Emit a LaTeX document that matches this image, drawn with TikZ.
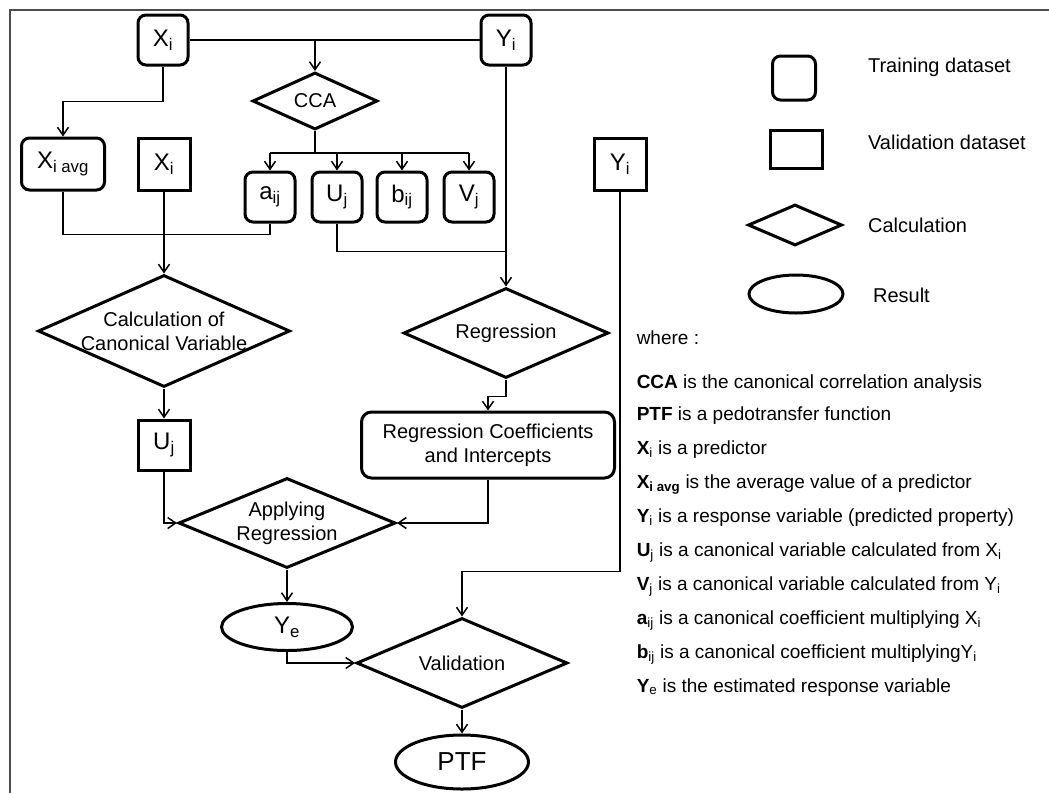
\documentclass[tikz,border=0pt]{standalone}
\usepackage{fontspec}
\setmainfont{Liberation Sans}
\usetikzlibrary{shapes.geometric,arrows.meta}

\begin{document}
\begin{tikzpicture}[x=1pt,y=-1pt,line width=1.5pt,
  >={Straight Barb[length=8pt,width=11pt]},
  train/.style={draw,line width=3pt,rounded corners=8pt,inner sep=0pt,
    minimum width=50pt,minimum height=50pt,font=\fontsize{24}{28}\selectfont},
  valid/.style={draw,line width=3pt,inner sep=0pt,
    minimum width=52pt,minimum height=52pt,font=\fontsize{24}{28}\selectfont},
  calc/.style={draw,diamond,line width=3pt,inner sep=0pt},
  result/.style={draw,ellipse,line width=3pt,inner sep=0pt},
  txt/.style={font=\fontsize{20}{24}\selectfont,align=center},
  legtxt/.style={anchor=west,font=\fontsize{20}{24}\selectfont},
  defn/.style={anchor=west,inner sep=0pt,font=\fontsize{19}{22}\selectfont,
    text height=14pt,text depth=4pt}]
 \useasboundingbox (0,0) rectangle (1049,793);
 \draw[black!70] (10,793) -- (10,10) -- (1049,10);

 \node[train] (xi) at (163,40) {X\textsubscript{i}};
 \node[train] (yi) at (506,40) {Y\textsubscript{i}};
 \node[calc,minimum width=125pt,minimum height=57pt,
   label={[txt]center:CCA}] (cca) at (315,101) {};
 \node[train,minimum width=83pt,minimum height=52pt] (xavg) at (63,164)
   {X\textsubscript{i avg}};
 \node[valid] (xv) at (164,164) {X\textsubscript{i}};
 \node[train] (aij) at (270,197) {a\textsubscript{ij}};
 \node[train] (uj) at (337,197) {U\textsubscript{j}};
 \node[train] (bij) at (402,197) {b\textsubscript{ij}};
 \node[train] (vj) at (469,197) {V\textsubscript{j}};
 \node[valid] (yv) at (620,164) {Y\textsubscript{i}};
 \node[calc,minimum width=252pt,minimum height=112pt,
   label={[txt]center:{Calculation of\\Canonical Variable}}] (canon) at (164,331) {};
 \node[calc,minimum width=205pt,minimum height=90pt,
   label={[txt]center:Regression}] (regr) at (506,333) {};
 \node[valid,minimum width=52pt,minimum height=50pt] (uv) at (164,445) {U\textsubscript{j}};
 \node[train,txt,rounded corners=10pt,minimum width=253pt,minimum height=66pt]
   (coef) at (488,445) {Regression Coefficients\\and Intercepts};
 \node[calc,minimum width=217pt,minimum height=90pt,
   label={[txt]center:{Applying\\Regression}}] (apply) at (287,523) {};
 \node[result,minimum width=131pt,minimum height=47pt,
   font=\fontsize{24}{28}\selectfont] (ye) at (287,627) {Y\textsubscript{e}};
 \node[calc,minimum width=211pt,minimum height=90pt,
   label={[txt]center:Validation}] (valid) at (462,663) {};
 \node[result,minimum width=133pt,minimum height=54pt,
   font=\fontsize{26}{30}\selectfont] (ptf) at (462,762) {PTF};

 \draw (xi.east) -- (yi.west);
 \draw[->] (cca.north |- xi.east) -- (cca.north);
 \draw[->] (xi.south) -- ++(0,35) -| (xavg.north);
 \draw (cca.south) -- ++(0,22) coordinate (bus);
 \draw (aij.north |- bus) -- (vj.north |- bus);
 \foreach \n in {aij,uj,bij,vj}
   \draw[->] (\n.north |- bus) -- (\n.north);
 \draw (xavg.south) -- ++(0,43) -| (aij.south);
 \draw[->] (xv.south) -- (canon.north);
 \draw (uj.south) -- ++(0,28) coordinate (ujlow) -- (ujlow -| yi.south);
 \draw[->] (yi.south) -- (regr.north);
 \draw[->] (regr.south) -- ++(0,17) -| (coef.north);
 \draw[->] (canon.south) -- (uv.north);
 \draw[->] (uv.south) |- (apply.west);
 \draw[->] (coef.south) |- (apply.east);
 \draw[->] (apply.south) -- (ye.north);
 \draw[->] (ye.south) |- (valid.west);
 \draw[->] (yv.south) -- ++(0,380) -| (valid.north);
 \draw[->] (valid.south) -- (ptf.north);

 \node[train,minimum width=43pt,minimum height=44pt] (legtrain) at (794,78) {};
 \node[legtxt] (legtraintxt) at (864,67) {Training dataset};
 \node[valid,minimum width=52pt,minimum height=38pt] (legvalid) at (796,149) {};
 \node[legtxt] (legvalidtxt) at (864,142) {Validation dataset};
 \node[calc,minimum width=94pt,minimum height=41pt] (legcalc) at (795,225) {};
 \node[legtxt] (legcalctxt) at (864,225) {Calculation};
 \node[result,minimum width=94pt,minimum height=38pt] (legres) at (796,294) {};
 \node[legtxt] (legrestxt) at (869,295) {Result};

 \node[defn] (where) at (636,339) {where :};
 \node[defn] (defcca) at (636,383) {\textbf{CCA} is the canonical correlation analysis};
 \node[defn] (defptf) at (636,415) {\textbf{PTF} is a pedotransfer function};
 \node[defn] (defxi) at (636,449) {\textbf{X}\textsubscript{i} is a predictor};
 \node[defn] (defxavg) at (636,483)
   {\textbf{X}\textsubscript{\textbf{i avg}} is the average value of a predictor};
 \node[defn] (defyi) at (636,517)
   {\textbf{Y}\textsubscript{i} is a response variable (predicted property)};
 \node[defn] (defuj) at (636,551)
   {\textbf{U}\textsubscript{j} is a canonical variable calculated from X\textsubscript{i}};
 \node[defn] (defvj) at (636,585)
   {\textbf{V}\textsubscript{j} is a canonical variable calculated from Y\textsubscript{i}};
 \node[defn] (defaij) at (636,619)
   {\textbf{a}\textsubscript{ij} is a canonical coefficient multiplying X\textsubscript{i}};
 \node[defn] (defbij) at (636,653)
   {\textbf{b}\textsubscript{ij} is a canonical coefficient multiplyingY\textsubscript{i}};
 \node[defn] (defye) at (636,687) {\textbf{Y}\textsubscript{e} is the estimated response variable};
\end{tikzpicture}
\end{document}
